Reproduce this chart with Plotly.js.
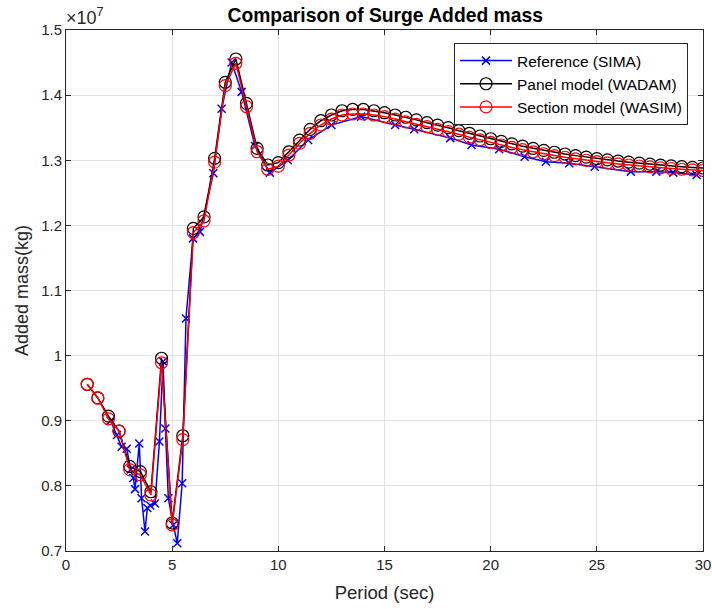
<!DOCTYPE html>
<html>
<head>
<meta charset="utf-8">
<script src="https://cdn.plot.ly/plotly-3.0.1.min.js"></script>
<style>html,body{margin:0;padding:0;background:#fff;}#chart{width:712px;height:609px;}</style>
</head>
<body>
<div id="chart"></div>
<script>
// Values in units of 1e7 kg
const periodModel = [1,1.5,2,2.5,3,3.5,4,4.5,5,5.5,6,6.5,7,7.5,8,8.5,9,9.5,10,10.5,11,11.5,12,12.5,13,13.5,14,14.5,15,15.5,16,16.5,17,17.5,18,18.5,19,19.5,20,20.5,21,21.5,22,22.5,23,23.5,24,24.5,25,25.5,26,26.5,27,27.5,28,28.5,29,29.5,30];
const wadam = [0.956,0.935,0.907,0.884,0.830,0.822,0.791,0.996,0.743,0.877,1.1955,1.213,1.303,1.4197,1.4555,1.3874,1.3183,1.2927,1.2963,1.313,1.331,1.3475,1.3607,1.3695,1.376,1.378,1.378,1.376,1.373,1.3695,1.366,1.362,1.3577,1.354,1.350,1.3454,1.3414,1.3372,1.3330,1.3290,1.3252,1.3216,1.3183,1.3152,1.3123,1.3096,1.3071,1.3048,1.3026,1.3006,1.2988,1.2971,1.2955,1.2940,1.2926,1.2913,1.2901,1.2890,1.2881];
const wasim = [0.956,0.935,0.903,0.884,0.825,0.817,0.786,0.989,0.740,0.871,1.189,1.207,1.297,1.4145,1.4489,1.3822,1.3131,1.2861,1.291,1.308,1.326,1.3414,1.3541,1.3633,1.3695,1.371,1.371,1.3695,1.367,1.3633,1.359,1.355,1.3515,1.3475,1.344,1.340,1.3355,1.3314,1.3273,1.3234,1.3197,1.3162,1.3130,1.3100,1.3072,1.3046,1.3022,1.3000,1.2979,1.2960,1.2943,1.2927,1.2912,1.2898,1.2885,1.2873,1.2862,1.2852,1.2843];
const periodRef = [2.1,2.4,2.62,2.86,3.05,3.17,3.25,3.45,3.56,3.72,3.83,3.97,4.19,4.4,4.57,4.68,4.82,5.05,5.24,5.47,5.65,5.98,6.31,6.94,7.33,7.8,8.27,8.9,9.6,10.45,11.4,12.5,13.9,15.5,16.4,18.1,19.1,20.4,21.6,22.6,23.7,24.9,26.6,27.8,28.6,29.7];
const sima = [0.900,0.878,0.860,0.857,0.825,0.812,0.795,0.865,0.781,0.730,0.766,0.770,0.773,0.868,0.991,0.888,0.781,0.740,0.712,0.804,1.057,1.180,1.190,1.280,1.379,1.450,1.405,1.322,1.281,1.300,1.331,1.354,1.367,1.354,1.3475,1.334,1.3234,1.317,1.3055,1.2978,1.2953,1.290,1.2825,1.2825,1.281,1.2774];
const yTicks = [0.7,0.8,0.9,1,1.1,1.2,1.3,1.4,1.5];
const yTickText = ['0.7','0.8','0.9','1','1.1','1.2','1.3','1.4','1.5'];
const xTicks = [0,5,10,15,20,25,30];

const FONT = 'Liberation Sans, Arial, Helvetica, sans-serif';
const axCol = '#262626';
const traces = [
  {x: periodRef, y: sima, name: 'Reference (SIMA)', mode: 'lines+markers',
   line: {color: 'rgb(0,0,255)', width: 1.5}, marker: {symbol: 'x-thin-open', size: 8, color: 'rgb(0,0,255)', line: {color: 'rgb(0,0,255)', width: 1.5}}},
  {x: periodModel, y: wadam, name: 'Panel model (WADAM)', mode: 'lines+markers',
   line: {color: '#000000', width: 1.5}, marker: {symbol: 'circle-open', size: 12, color: '#000000', line: {width: 1.2}}},
  {x: periodModel, y: wasim, name: 'Section model (WASIM)', mode: 'lines+markers',
   line: {color: 'rgb(255,0,0)', width: 1.5}, marker: {symbol: 'circle-open', size: 12, color: 'rgb(255,0,0)', line: {width: 1.2}}}
];
const layout = {
  width: 712, height: 609,
  margin: {l: 66, r: 9, t: 30, b: 58},
  paper_bgcolor: '#ffffff', plot_bgcolor: '#ffffff',
  font: {family: FONT, color: axCol, size: 15},
  title: {text: '<b>Comparison of Surge Added mass</b>', font: {family: FONT, size: 19.3, color: '#000'}, x: 0.541, xanchor: 'center', y: 0.975, yanchor: 'middle'},
  xaxis: {range: [0, 30], tickvals: xTicks, ticks: 'inside', ticklen: 5, tickcolor: axCol,
    showline: true, linecolor: axCol, linewidth: 1, mirror: 'ticks', showgrid: true, gridcolor: '#e3e3e3', zeroline: false,
    tickfont: {size: 15, color: axCol}, title: {text: 'Period (sec)', font: {size: 18.5, color: axCol}, standoff: 14}},
  yaxis: {range: [0.7, 1.5], tickvals: yTicks, ticktext: yTickText, ticks: 'inside', ticklen: 5, tickcolor: axCol,
    showline: true, linecolor: axCol, linewidth: 1, mirror: 'ticks', showgrid: true, gridcolor: '#e3e3e3', zeroline: false,
    tickfont: {size: 15, color: axCol}, title: {text: 'Added mass(kg)', font: {size: 18, color: axCol}, standoff: 7}},
  legend: {x: 0.9765, xanchor: 'right', y: 0.975, yanchor: 'top', bgcolor: '#ffffff', bordercolor: axCol, borderwidth: 1,
    font: {size: 15.5, color: '#000'}, tracegroupgap: 0, itemwidth: 52},
  showlegend: true,
  annotations: [{xref: 'paper', yref: 'paper', x: 0.0, y: 1.0, xanchor: 'left', yanchor: 'bottom', showarrow: false,
    text: '×10<sup>7</sup>', font: {size: 18, color: axCol}, xshift: -2, yshift: 0}]
};
Plotly.newPlot('chart', traces, layout, {displayModeBar: false, staticPlot: true});
</script>
</body>
</html>
